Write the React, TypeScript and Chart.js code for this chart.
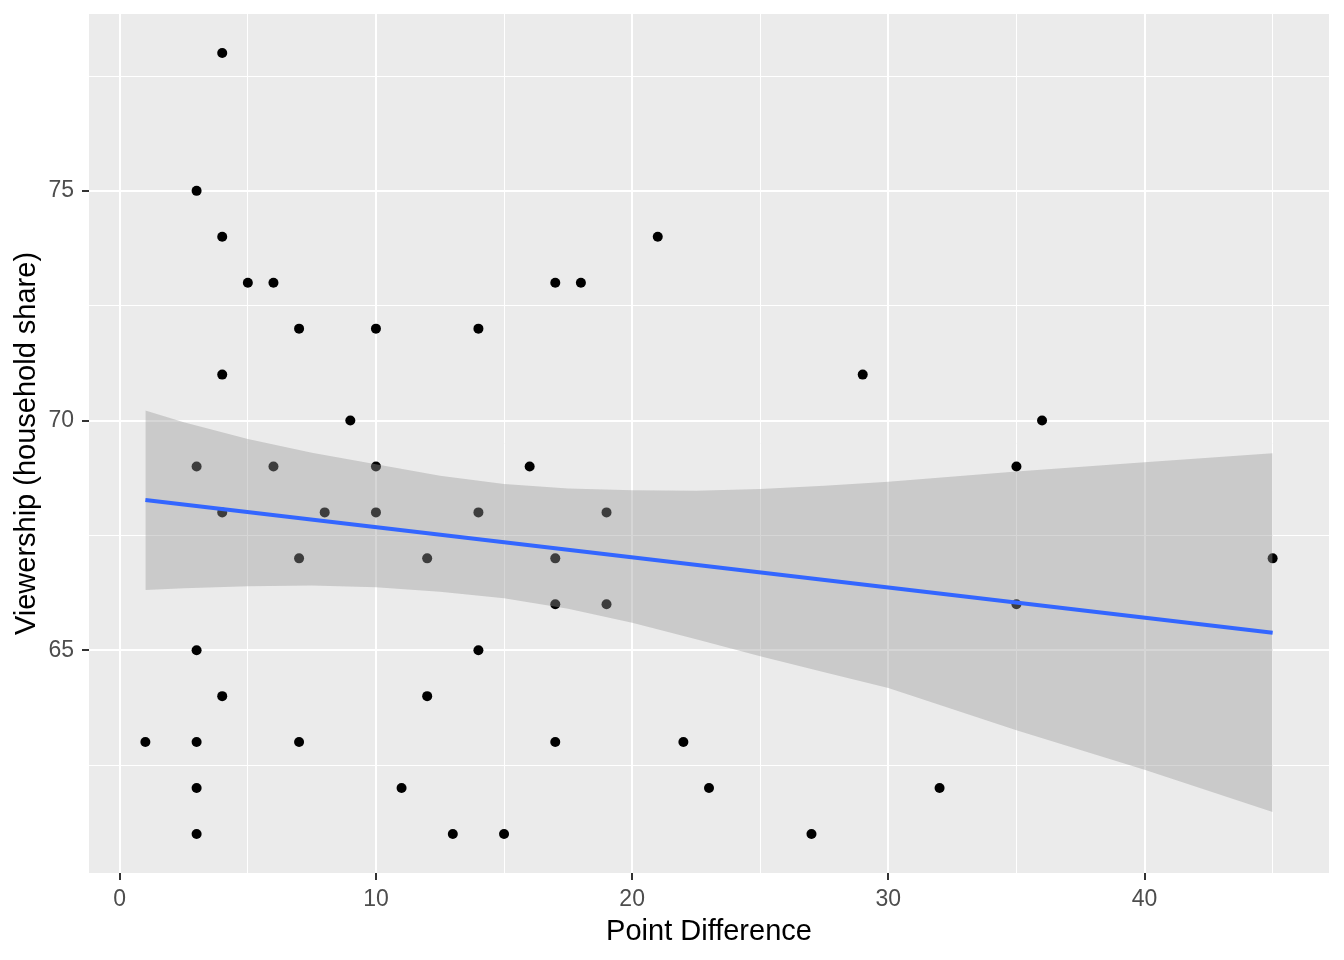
import React, { useEffect, useRef } from "react";
import { Chart, registerables } from "chart.js";

Chart.register(...registerables);

// Scatter data: point difference vs viewership (household share)
const pointDiff = [4, 3, 4, 5, 6, 7, 10, 4, 9, 3, 6, 10, 4, 8, 10, 7, 12, 14, 14, 14, 3, 4, 12, 1, 3, 7, 3, 11, 3, 13, 15, 16, 17, 18, 17, 17, 17, 19, 19, 21, 22, 23, 27, 29, 32, 35, 35, 36, 45];
const viewership = [78, 75, 74, 73, 73, 72, 72, 71, 70, 69, 69, 69, 68, 68, 68, 67, 67, 72, 68, 65, 65, 64, 64, 63, 63, 63, 62, 62, 61, 61, 61, 69, 73, 73, 67, 66, 63, 68, 66, 74, 63, 62, 61, 71, 62, 69, 66, 70, 67];

// Confidence band
const bandX = [1, 2.5, 5, 7.5, 10, 12.5, 15, 17.5, 20, 22.5, 25, 27.5, 30, 35, 40, 45];
const bandLower = [66.31, 66.35, 66.39, 66.41, 66.37, 66.27, 66.13, 65.9, 65.6, 65.24, 64.87, 64.52, 64.18, 63.26, 62.4, 61.48];
const bandUpper = [70.22, 69.96, 69.6, 69.3, 69.05, 68.8, 68.62, 68.52, 68.48, 68.47, 68.51, 68.58, 68.67, 68.89, 69.09, 69.29];

// Fitted line end points
const fitX = [1, 45];
const fitY = [68.27, 65.38];

const xMajorTicks = [0, 10, 20, 30, 40];
const xMinorTicks = [5, 15, 25, 35, 45];
const yMajorTicks = [65, 70, 75];
const yMinorTicks = [62.5, 67.5, 72.5, 77.5];

const xTitle = "Point Difference";
const yTitle = "Viewership (household share)";

const FONT = "'Liberation Sans', Arial, sans-serif";

export default function App() {
  const ref = useRef<HTMLCanvasElement | null>(null);

  useEffect(() => {
    document.body.style.margin = "0";
    const canvas = ref.current;
    if (!canvas) return;

    const panelBg = {
      id: "panelBg",
      beforeDraw(chart: any) {
        const { ctx, chartArea } = chart;
        ctx.save();
        ctx.fillStyle = "#EBEBEB";
        ctx.fillRect(chartArea.left, chartArea.top, chartArea.right - chartArea.left, chartArea.bottom - chartArea.top);
        ctx.restore();
      },
    };

    const isMajorX = (v: number) => xMajorTicks.includes(v);
    const isMajorY = (v: number) => yMajorTicks.includes(v);

    const chart = new Chart(canvas, {
      type: "scatter",
      data: {
        datasets: [
          {
            type: "line",
            label: "fit",
            data: fitX.map((x, i) => ({ x, y: fitY[i] })),
            borderColor: "#3366FF",
            borderWidth: 4,
            pointRadius: 0,
            fill: false,
            order: 0,
          } as any,
          {
            type: "line",
            label: "lower",
            data: bandX.map((x, i) => ({ x, y: bandLower[i] })),
            borderColor: "rgba(0,0,0,0)",
            borderWidth: 0,
            pointRadius: 0,
            fill: false,
            order: 1,
          } as any,
          {
            type: "line",
            label: "upper",
            data: bandX.map((x, i) => ({ x, y: bandUpper[i] })),
            borderColor: "rgba(0,0,0,0)",
            borderWidth: 0,
            pointRadius: 0,
            fill: "-1",
            backgroundColor: "rgba(153,153,153,0.4)",
            order: 2,
          } as any,
          {
            type: "scatter",
            label: "points",
            data: pointDiff.map((x, i) => ({ x, y: viewership[i] })),
            backgroundColor: "#000000",
            borderWidth: 0,
            pointRadius: 5,
            order: 3,
          } as any,
        ],
      },
      options: {
        animation: false,
        responsive: false,
        devicePixelRatio: 1,
        layout: { padding: { top: 14, right: 15, left: 0, bottom: 0 } },
        plugins: {
          legend: { display: false },
          tooltip: { enabled: false },
        },
        scales: {
          x: {
            type: "linear",
            min: -1.2,
            max: 47.2,
            afterBuildTicks: (scale: any) => {
              scale.ticks = [...xMajorTicks, ...xMinorTicks].sort((a, b) => a - b).map((v) => ({ value: v }));
            },
            afterFit: (scale: any) => {
              scale.height = 87;
              scale.paddingLeft = 0;
              scale.paddingRight = 0;
              scale.paddingTop = 0;
              scale.paddingBottom = 0;
            },
            border: { display: false },
            grid: {
              color: "#FFFFFF",
              lineWidth: (ctx: any) => (ctx.tick && isMajorX(ctx.tick.value) ? 2 : 1),
              tickColor: (ctx: any) => (ctx.tick && isMajorX(ctx.tick.value) ? "#333333" : "rgba(0,0,0,0)"),
              tickLength: 7,
              tickWidth: 2,
            },
            ticks: {
              autoSkip: false,
              maxRotation: 0,
              padding: 6,
              color: "#4D4D4D",
              font: { family: FONT, size: 23 },
              callback: (v: any) => (isMajorX(Number(v)) ? String(v) : ""),
            },
            title: {
              display: true,
              text: xTitle,
              color: "#000000",
              font: { family: FONT, size: 29 },
              padding: { top: 0, bottom: 11 },
            },
          },
          y: {
            type: "linear",
            min: 60.15,
            max: 78.85,
            afterBuildTicks: (scale: any) => {
              scale.ticks = [...yMajorTicks, ...yMinorTicks].sort((a, b) => a - b).map((v) => ({ value: v }));
            },
            afterFit: (scale: any) => {
              scale.width = 89;
              scale.paddingLeft = 0;
              scale.paddingRight = 0;
              scale.paddingTop = 0;
              scale.paddingBottom = 0;
            },
            border: { display: false },
            grid: {
              color: "#FFFFFF",
              lineWidth: (ctx: any) => (ctx.tick && isMajorY(ctx.tick.value) ? 2 : 1),
              tickColor: (ctx: any) => (ctx.tick && isMajorY(ctx.tick.value) ? "#333333" : "rgba(0,0,0,0)"),
              tickLength: 7,
              tickWidth: 2,
            },
            ticks: {
              autoSkip: false,
              padding: 8,
              color: "#4D4D4D",
              font: { family: FONT, size: 23 },
              callback: (v: any) => (isMajorY(Number(v)) ? String(v) : ""),
            },
            title: {
              display: true,
              text: yTitle,
              color: "#000000",
              font: { family: FONT, size: 29 },
              padding: { top: 10, bottom: 0 },
            },
          },
        },
      },
      plugins: [panelBg],
    } as any);

    return () => chart.destroy();
  }, []);

  return <canvas ref={ref} width={1344} height={960} style={{ display: "block" }} />;
}
